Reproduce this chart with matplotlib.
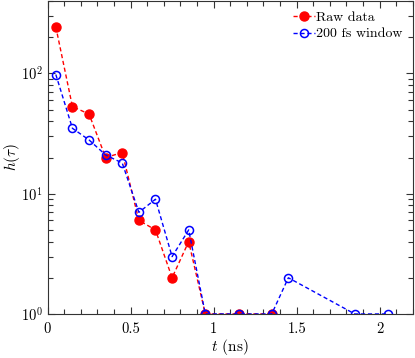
import matplotlib
matplotlib.use("Agg")
import matplotlib.pyplot as plt
from matplotlib.ticker import MultipleLocator, LogLocator, NullFormatter

plt.rcParams['font.family'] = 'serif'
plt.rcParams['font.serif'] = ['cmr10', 'DejaVu Serif']
plt.rcParams['mathtext.fontset'] = 'cm'
plt.rcParams['axes.formatter.use_mathtext'] = True

raw_t = [0.05, 0.15, 0.25, 0.35, 0.45, 0.55, 0.65, 0.75, 0.85, 0.95, 1.15, 1.35]
raw_h = [244, 53, 46, 20, 22, 6, 5, 2, 4, 1, 1, 1]

win_t = [0.05, 0.15, 0.25, 0.35, 0.45, 0.55, 0.65, 0.75, 0.85, 0.95, 1.15, 1.35, 1.45, 1.85, 2.05]
win_h = [98, 35, 28, 21, 18, 7, 9, 3, 5, 1, 1, 1, 2, 1, 1]

fig = plt.figure(figsize=(4.15, 3.58), dpi=100)
ax = fig.add_axes([0.1145, 0.123, 0.8805, 0.874])

ax.plot(raw_t, raw_h, '--o', color='red', mfc='red', mec='red', ms=6.5, lw=1,
        dashes=(3, 2), label='Raw data')
ax.plot(win_t, win_h, '--o', color='blue', mfc='none', mec='blue', ms=5.8, mew=1.1, lw=1,
        dashes=(3, 2), label='200 fs window')

ax.set_yscale('log')
ax.set_xlim(0, 2.2)
ax.set_ylim(1, 400)
ax.xaxis.set_minor_locator(MultipleLocator(0.1))
ax.set_xticks([0, 0.5, 1, 1.5, 2])
ax.set_xticklabels(['0', '0.5', '1', '1.5', '2'])
ax.yaxis.set_major_locator(LogLocator(base=10))
ax.yaxis.set_minor_locator(LogLocator(base=10, subs=range(2, 10)))
ax.yaxis.set_minor_formatter(NullFormatter())

ax.tick_params(which='both', direction='in', top=True, right=True, labelsize=10.5, color='#333333')
ax.tick_params(axis='x', which='major', pad=6)
ax.tick_params(which='major', length=5, width=0.8)
ax.tick_params(which='minor', length=3.5, width=0.8)
for s in ax.spines.values():
    s.set_linewidth(0.8)
    s.set_color('#333333')

ax.set_xlabel(r'$t$ (ns)', fontsize=11)
ax.set_ylabel(r'$h(\tau)$', fontsize=11)
ax.xaxis.set_label_coords(0.5, -0.075)
ax.yaxis.set_label_coords(-0.07, 0.5)

ax.legend(loc='upper right', frameon=False, fontsize=10, handlelength=1.6,
          handletextpad=0.1, borderaxespad=0.35, labelspacing=0.25)

fig.savefig('out.png', dpi=100)
